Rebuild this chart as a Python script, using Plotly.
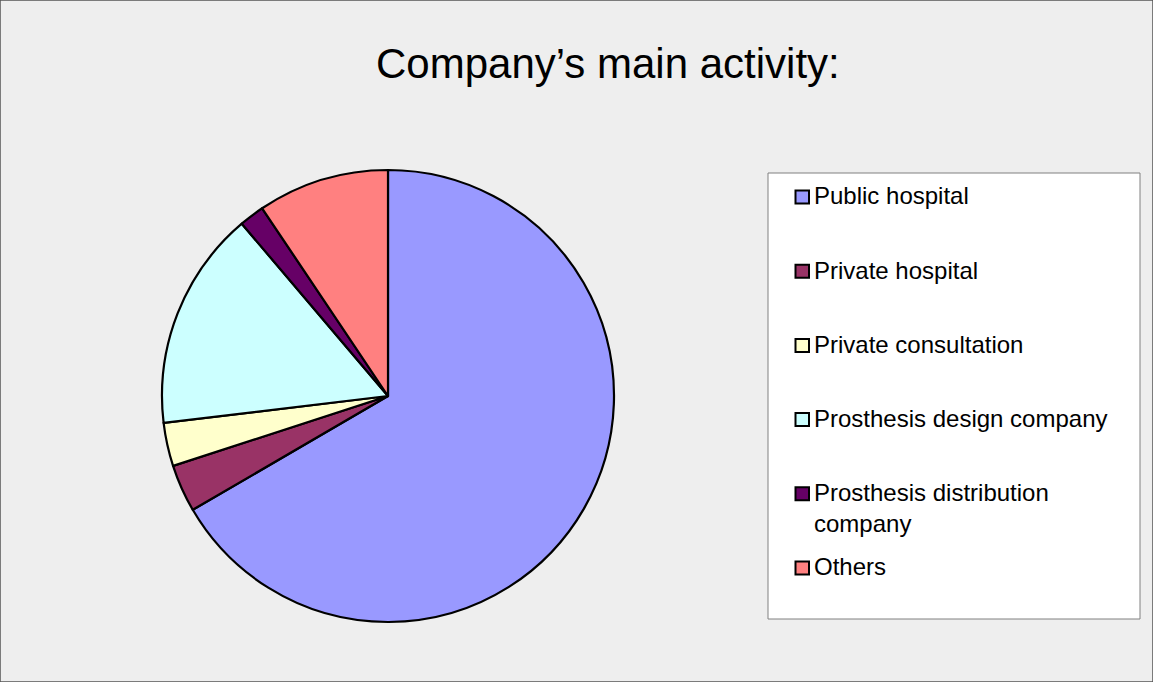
import plotly.graph_objects as go

# Data (share of respondents, %)
labels = [
    "Public hospital",
    "Private hospital",
    "Private consultation",
    "Prosthesis design company",
    "Prosthesis distribution company",
    "Others",
]
legend_text = [
    "Public hospital",
    "Private hospital",
    "Private consultation",
    "Prosthesis design company",
    "Prosthesis distribution<br>company",
    "Others",
]
values = [66.6, 3.4, 3.1, 15.7, 1.8, 9.4]
colors = ["#9999FF", "#993366", "#FFFFCC", "#CCFFFF", "#660066", "#FF8080"]

W, H = 1153, 682
FONT = "Liberation Sans, Arial, sans-serif"


def px(x):
    return x / W


def py(y):
    return 1 - y / H


fig = go.Figure()

# pie: centre ~(388, 396) px, radius ~226 px
fig.add_trace(
    go.Pie(
        labels=labels,
        values=values,
        sort=False,
        direction="clockwise",
        rotation=0,
        marker=dict(colors=colors, line=dict(color="black", width=2.2)),
        textinfo="none",
        hoverinfo="label+percent",
        showlegend=False,
        domain=dict(x=[px(162), px(614)], y=[py(622), py(170)]),
    )
)

shapes = [
    # outer frame
    dict(type="rect", xref="paper", yref="paper", x0=0, x1=1, y0=0, y1=1,
         line=dict(color="#555555", width=1.5), fillcolor="rgba(0,0,0,0)", layer="above"),
    # legend box
    dict(type="rect", xref="paper", yref="paper",
         x0=px(768), x1=px(1140), y0=py(619), y1=py(173),
         line=dict(color="#808080", width=1), fillcolor="white", layer="below"),
]
annotations = []

# hand-drawn legend, uniform row pitch like the original
row0, pitch = 197, 74.2
for i, (txt, col) in enumerate(zip(legend_text, colors)):
    yc = row0 + pitch * i
    shapes.append(
        dict(type="rect", xref="paper", yref="paper",
             x0=px(795.5), x1=px(809), y0=py(yc + 6.5), y1=py(yc - 6.5),
             line=dict(color="black", width=2), fillcolor=col)
    )
    annotations.append(
        dict(text=txt, xref="paper", yref="paper", x=px(812), y=py(yc - 16.6),
             xanchor="left", yanchor="top", align="left", showarrow=False,
             font=dict(family=FONT, size=24, color="black"))
    )

annotations.append(
    dict(text="Company’s main activity:", xref="paper", yref="paper",
         x=px(608), y=py(63), xanchor="center", yanchor="middle", showarrow=False,
         font=dict(family=FONT, size=42, color="black"))
)

fig.update_layout(
    width=W,
    height=H,
    margin=dict(l=0, r=0, t=0, b=0),
    paper_bgcolor="#EEEEEE",
    plot_bgcolor="#EEEEEE",
    shapes=shapes,
    annotations=annotations,
    font=dict(family=FONT),
)

# drop the default 8px page margin so the figure sits flush in the window
fig.write_html(
    "out.html",
    config={"displayModeBar": False},
    post_script="document.body.style.margin='0';",
)
